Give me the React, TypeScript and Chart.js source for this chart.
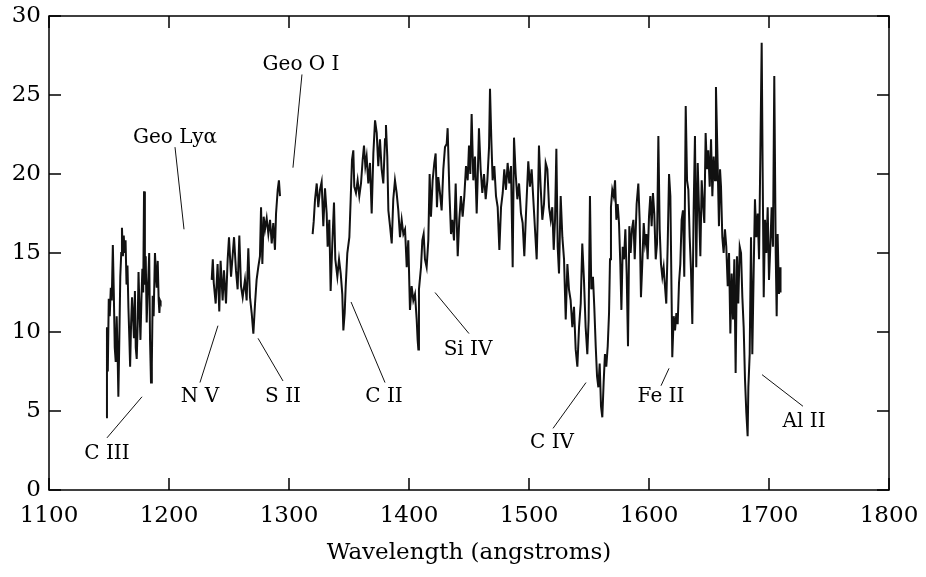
import React, { useEffect, useRef } from "react";
import { Chart, registerables } from "chart.js";

Chart.register(...registerables);

// ---- Spectrum segments (wavelength in angstroms, flux) ----
const seg1Wave = [1147.5,1148.3,1149.0,1149.8,1150.6,1151.5,1152.3,1153.2,1154.0,1154.8,1155.6,1156.4,1157.2,1157.8,1158.6,1159.4,1160.2,1160.8,1161.6,1162.3,1163.0,1163.8,1164.6,1165.4,1166.2,1167.0,1167.6,1168.4,1169.2,1170.0,1170.8,1171.6,1172.3,1173.1,1173.9,1174.6,1175.4,1176.2,1177.0,1177.8,1178.5,1179.2,1179.9,1180.6,1181.4,1182.2,1182.8,1183.5,1184.2,1185.0,1185.7,1186.4,1187.2,1188.3,1189.2,1189.8,1190.6,1191.4,1192.0,1192.5,1193.0];
const seg1Flux = [4.6,10.3,7.5,12.1,11.0,12.8,12.0,15.5,12.5,9.0,8.1,11.0,8.5,5.9,9.5,13.5,15.0,16.6,14.8,16.1,15.0,15.8,13.0,14.2,11.5,9.5,7.8,10.5,12.2,11.0,9.6,12.6,9.0,8.3,10.5,13.8,11.5,9.5,12.0,14.0,12.5,18.9,13.0,14.8,10.6,12.5,13.5,15.0,9.5,6.8,8.0,12.3,11.0,15.0,13.5,12.8,14.5,12.0,11.2,12.0,11.9];

const seg2Wave = [1235.6,1236.5,1237.3,1238.9,1240.5,1241.9,1243.0,1244.7,1245.8,1247.5,1248.9,1250.0,1251.7,1253.0,1254.2,1255.8,1257.2,1258.6,1260.0,1261.4,1263.3,1264.7,1266.1,1267.5,1268.9,1270.3,1271.7,1273.0,1274.4,1275.8,1276.7,1277.8,1278.9,1280.0,1281.4,1282.8,1284.2,1285.6,1286.9,1288.3,1289.2,1290.6,1291.6,1292.5];
const seg2Flux = [13.3,14.6,13.1,11.8,14.3,11.3,14.5,12.0,13.9,11.8,14.6,16.0,13.5,14.8,16.0,13.9,12.7,16.1,12.9,12.2,13.3,12.0,15.3,12.2,11.2,9.9,11.8,13.3,14.1,14.8,17.9,14.3,17.3,16.5,17.2,16.2,17.1,15.6,16.9,15.2,17.5,19.0,19.6,18.6];

const seg3Wave = [
  1319.7,1320.6,1321.7,1323.1,1324.4,1325.8,1327.2,1328.6,1330.0,1331.4,1332.2,1333.6,1334.7,1336.1,1337.5,1338.6,1340.3,1341.7,1343.1,1344.4,1345.3,1346.4,1347.2,1348.6,1350.3,1351.4,1352.5,1353.6,1354.4,1355.8,1357.2,1358.6,1360.0,1361.4,1362.5,1363.6,1364.7,1366.1,1367.5,1368.9,1370.3,1371.7,1373.1,1374.4,1375.8,1377.2,1378.6,1380.0,1380.8,1381.9,1382.8,1384.2,1385.6,1386.9,1388.3,1389.7,1391.1,1392.5,1393.9,1395.3,1396.7,1398.1,1399.4,1400.8,1402.2,1403.6,1405.0,1406.4,1407.2,1407.8,
  1408.3,1410.0,1411.1,1412.2,1413.3,1414.7,1416.1,1417.2,1418.3,1419.7,1421.1,1422.2,1423.3,1424.4,1425.8,1427.2,1428.6,1430.0,1431.4,1432.2,1433.6,1435.0,1436.1,1437.5,1438.9,1440.6,1441.9,1443.3,1444.7,1446.1,1447.5,1448.9,1450.0,1451.1,1452.2,1453.6,1455.0,1456.4,1457.2,1458.3,1459.7,1461.1,1462.5,1463.9,1465.3,1466.7,1467.5,1468.6,1469.7,1471.1,1472.5,1473.9,1475.3,1476.7,1478.1,1479.4,1480.8,1482.2,1483.6,1485.0,1486.4,1487.5,1488.9,1490.3,1491.7,1493.3,1494.7,1496.1,1497.5,1498.6,
  1499.4,1500.8,1502.2,1503.6,1505.0,1506.4,1507.2,1508.3,1509.7,1511.1,1512.5,1513.9,1515.3,1516.7,1518.1,1519.4,1520.6,1521.7,1522.8,1523.9,1525.0,1526.4,1527.8,1529.2,1530.6,1532.0,1533.3,1534.7,1536.1,1537.5,1538.9,1540.3,1541.7,1543.1,1544.4,1545.8,1547.2,1548.6,1549.7,1550.8,1551.9,1553.3,1554.4,1555.6,1556.7,1557.8,1558.9,1560.0,1561.1,1562.2,1563.3,1564.4,1565.6,1566.7,1567.5,1568.3,1569.4,1570.6,1571.7,1572.8,1573.9,1575.0,1576.1,1577.0,1578.1,1579.2,1580.3,1581.4,1582.5,1583.6,1584.7,1585.8,1587.0,1588.1,
  1589.7,1591.1,1592.2,1593.3,1594.4,1595.6,1596.7,1597.8,1598.9,1600.0,1601.1,1602.2,1603.3,1604.4,1605.6,1606.7,1607.8,1608.9,1610.0,1611.1,1612.2,1613.3,1614.4,1615.6,1616.7,1617.8,1618.9,1619.4,1620.6,1621.7,1622.8,1623.9,1625.0,1626.1,1627.2,1628.3,1629.4,1630.6,1631.7,1632.8,1633.9,1635.0,1636.1,1637.2,1638.3,1639.4,1640.6,1641.7,1642.8,1643.9,1645.0,1646.1,1647.2,1648.3,1649.4,1650.6,1651.7,1652.8,1653.9,1655.0,1655.8,
  1657.2,1658.3,1659.2,1660.0,1661.1,1662.2,1663.3,1664.4,1665.6,1666.7,1667.8,1668.9,1670.0,1671.1,1672.2,1673.3,1674.4,1675.6,1676.7,1677.8,1678.9,1680.0,1681.1,1682.2,1682.8,1683.9,1685.0,1686.1,1687.2,1688.3,1689.4,1690.6,1691.7,1692.8,1693.9,1694.7,1695.6,1696.7,1697.8,1698.9,1700.0,1701.1,1702.2,1703.3,1704.4,1705.6,1706.4,1707.2,1708.3,1709.2,1709.6
];
const seg3Flux = [
  16.2,17.0,18.4,19.4,17.9,19.0,19.5,16.7,19.1,17.5,15.4,17.1,12.6,15.6,18.2,14.6,13.5,14.6,13.7,12.4,10.1,11.2,12.8,15.0,16.0,18.4,20.9,21.5,19.2,18.8,19.6,18.6,19.4,20.9,21.8,20.5,21.1,19.4,20.7,17.5,21.3,23.4,22.6,20.5,22.2,20.3,19.4,22.2,23.1,21.1,17.7,16.7,15.6,18.4,19.6,18.8,17.7,16.0,17.1,16.2,16.5,14.1,15.8,11.4,12.9,12.0,12.4,10.8,9.5,8.9,
  12.7,14.1,15.8,16.2,14.6,14.1,15.8,20.0,17.3,19.6,20.7,21.3,17.9,19.8,18.8,17.7,20.3,21.7,21.9,22.9,19.0,16.2,17.1,15.8,19.4,14.8,17.1,18.6,17.3,18.6,20.5,19.6,21.8,20.0,23.8,19.6,21.1,17.5,19.6,22.9,20.3,18.8,20.0,18.4,19.6,21.7,25.4,22.2,19.6,20.5,18.6,17.9,15.2,17.9,18.8,20.3,19.0,20.7,19.4,20.5,14.1,22.3,20.0,18.4,19.4,17.5,16.9,14.8,17.5,19.4,
  20.8,19.2,20.3,18.4,16.5,14.6,17.1,21.8,19.2,17.1,18.1,20.7,20.3,17.9,17.1,17.9,15.2,17.1,21.6,15.4,13.7,18.6,16.0,14.6,10.8,14.3,12.7,12.0,10.3,11.6,8.9,7.8,10.3,11.8,15.6,13.3,10.3,8.6,10.8,18.6,12.7,13.5,11.6,9.1,7.2,6.5,8.0,5.3,4.6,6.8,8.6,7.8,9.1,11.2,14.6,17.9,19.0,18.6,19.6,17.1,18.1,16.9,14.3,11.4,15.4,14.6,16.5,13.7,9.1,16.7,15.0,16.5,17.1,14.6,
  18.1,19.4,17.1,12.2,14.3,16.9,15.6,16.2,14.6,17.3,18.6,16.7,18.8,17.5,14.6,15.6,22.4,16.5,14.3,13.5,14.1,12.9,11.8,15.6,20.0,18.6,11.8,8.4,11.0,10.1,11.2,10.5,13.1,14.3,17.1,17.7,13.5,24.3,19.6,19.0,16.0,13.9,10.5,17.7,22.4,14.1,20.7,17.7,14.8,19.6,18.1,16.9,22.6,20.3,21.5,19.2,22.2,18.6,21.1,19.6,25.5,
  20.7,16.7,20.3,19.2,16.0,15.0,16.5,15.4,12.9,15.0,9.9,13.7,10.8,14.6,7.4,14.8,11.8,15.4,15.0,12.2,10.3,7.0,4.9,3.4,6.5,8.6,16.0,8.6,13.7,18.4,16.0,17.5,14.6,21.3,28.3,20.3,12.2,17.1,15.0,17.9,13.3,15.4,17.9,15.4,26.2,15.0,11.0,16.2,12.4,14.1,12.5
];

// ---- Axis ticks ----
const xTicks = [1100, 1200, 1300, 1400, 1500, 1600, 1700, 1800];
const yTicks = [0, 5, 10, 15, 20, 25, 30];
const xTitle = "Wavelength (angstroms)";

// ---- Line identifications ----
const labelText = ["C III", "Geo Lyα", "N V", "S II", "Geo O I", "C II", "Si IV", "C IV", "Fe II", "Al II"];
const labelX = [1148.3, 1205.0, 1225.8, 1295.0, 1310.0, 1379.2, 1449.2, 1519.2, 1610.0, 1729.2];
const labelY = [2.3, 22.3, 5.9, 5.9, 26.9, 5.9, 8.9, 3.0, 5.9, 4.3];
const leaderX1 = [1148.3, 1205.0, 1225.8, 1295.0, 1310.8, 1380.0, 1450.0, 1520.0, 1610.0, 1728.3];
const leaderY1 = [3.3, 21.7, 6.8, 6.9, 26.3, 6.8, 9.9, 3.9, 6.6, 5.3];
const leaderX2 = [1177.5, 1212.5, 1240.8, 1274.2, 1303.3, 1351.7, 1421.7, 1547.5, 1616.7, 1694.2];
const leaderY2 = [5.9, 16.5, 10.4, 9.6, 20.4, 11.9, 12.5, 6.8, 7.7, 7.3];

const FONT = "'DejaVu Serif', 'Liberation Serif', serif";

function toPoints(w: number[], f: number[]) {
  return w.map((x, i) => ({ x, y: f[i] }));
}

const overlayPlugin = {
  id: "overlay",
  afterDatasetsDraw(chart: any) {
    const { ctx, chartArea } = chart;
    const xs = chart.scales.x;
    const ys = chart.scales.y;
    const { left, right, top, bottom } = chartArea;
    ctx.save();
    ctx.strokeStyle = "#000";
    ctx.lineWidth = 1.5;
    ctx.strokeRect(left, top, right - left, bottom - top);
    const tl = 12;
    ctx.beginPath();
    xTicks.forEach((v) => {
      const px = xs.getPixelForValue(v);
      ctx.moveTo(px, bottom);
      ctx.lineTo(px, bottom - tl);
      ctx.moveTo(px, top);
      ctx.lineTo(px, top + tl);
    });
    yTicks.forEach((v) => {
      const py = ys.getPixelForValue(v);
      ctx.moveTo(left, py);
      ctx.lineTo(left + tl, py);
      ctx.moveTo(right, py);
      ctx.lineTo(right - tl, py);
    });
    ctx.stroke();

    ctx.lineWidth = 1;
    ctx.strokeStyle = "#111";
    ctx.beginPath();
    labelText.forEach((_, i) => {
      ctx.moveTo(xs.getPixelForValue(leaderX1[i]), ys.getPixelForValue(leaderY1[i]));
      ctx.lineTo(xs.getPixelForValue(leaderX2[i]), ys.getPixelForValue(leaderY2[i]));
    });
    ctx.stroke();

    ctx.fillStyle = "#000";
    ctx.font = `20px ${FONT}`;
    ctx.textAlign = "center";
    ctx.textBaseline = "middle";
    labelText.forEach((t, i) => {
      ctx.fillText(t, xs.getPixelForValue(labelX[i]), ys.getPixelForValue(labelY[i]));
    });
    ctx.restore();
  },
};

export default function App() {
  const ref = useRef<HTMLCanvasElement | null>(null);
  useEffect(() => {
    if (!ref.current) return;
    const lineStyle = {
      borderColor: "#111",
      borderWidth: 2,
      pointRadius: 0,
      tension: 0,
      fill: false,
    };
    const chart = new Chart(ref.current, {
      type: "line",
      data: {
        datasets: [
          { ...lineStyle, data: toPoints(seg1Wave, seg1Flux) },
          { ...lineStyle, data: toPoints(seg2Wave, seg2Flux) },
          { ...lineStyle, data: toPoints(seg3Wave, seg3Flux) },
        ],
      },
      options: {
        animation: false,
        responsive: false,
        devicePixelRatio: 1,
        layout: { padding: { left: 0, top: 16, right: 37, bottom: 0 } },
        plugins: { legend: { display: false }, tooltip: { enabled: false } },
        scales: {
          x: {
            type: "linear",
            min: xTicks[0],
            max: xTicks[xTicks.length - 1],
            grid: { display: false, drawTicks: false },
            border: { display: false },
            afterFit: (s: any) => { s.height = 87; s.paddingLeft = 0; s.paddingRight = 0; },
            afterBuildTicks: (s: any) => { s.ticks = xTicks.map((v) => ({ value: v })); },
            ticks: {
              color: "#000",
              font: { family: FONT, size: 23 },
              padding: 12,
              maxRotation: 0,
              callback: (v: any) => String(v),
            },
            title: {
              display: true,
              text: xTitle,
              color: "#000",
              font: { family: FONT, size: 23 },
              padding: { top: 0, bottom: 10 },
            },
          },
          y: {
            type: "linear",
            min: yTicks[0],
            max: yTicks[yTicks.length - 1],
            grid: { display: false, drawTicks: false },
            border: { display: false },
            afterFit: (s: any) => { s.width = 49; s.paddingTop = 0; s.paddingBottom = 0; },
            afterBuildTicks: (s: any) => { s.ticks = yTicks.map((v) => ({ value: v })); },
            ticks: {
              color: "#000",
              font: { family: FONT, size: 23 },
              padding: 8,
              callback: (v: any) => String(v),
            },
          },
        },
      },
      plugins: [overlayPlugin],
    });
    return () => chart.destroy();
  }, []);
  return (
    <div style={{ position: "absolute", left: 0, top: 0, width: 926, height: 577, background: "#fff" }}>
      <canvas ref={ref} width={926} height={577} />
    </div>
  );
}
